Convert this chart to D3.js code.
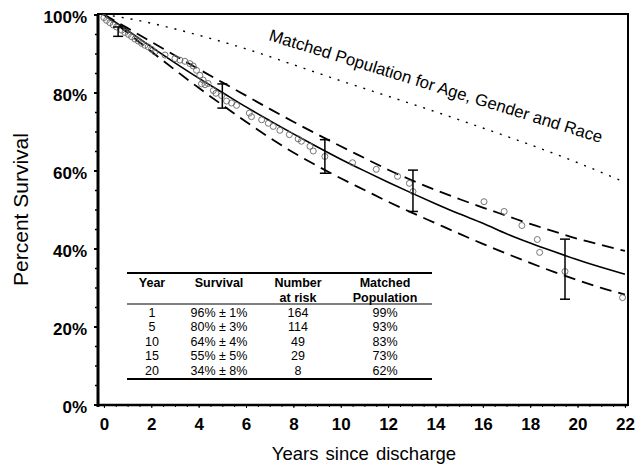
<!DOCTYPE html>
<html>
<head>
<meta charset="utf-8">
<script src="https://cdn.jsdelivr.net/npm/d3@7"></script>
<style>
  body { margin: 0; background: #fff; }
  text { font-family: "Liberation Sans", Arial, Helvetica, sans-serif; }
</style>
</head>
<body>
<div class="chart"></div>
<script>
// fitted survival curve and its confidence band (years, percent)
var fitYears = [0,1,2,3,4,5,6,7,8,9,10,11,12,13,14,15,16,17,18,19,20,21,22];
var fitSurvival = [100,95.9,91.7,87.6,83.7,80.0,76.3,72.8,69.4,66.1,62.9,59.9,57.0,54.2,51.5,48.9,46.5,43.8,41.4,39.2,37.1,35.2,33.4];
var fitUpper = [100,96.5,93,89.5,86,82.6,79.2,75.8,72.5,69.3,66.2,63.2,60.2,57.5,55.0,52.7,50.5,48.4,46.3,44.4,42.5,40.9,39.4];
var fitLower = [100,95.3,90.5,85.8,81.2,76.8,72.5,68.4,64.6,61.2,58.0,55.0,52.0,49.2,46.5,43.8,41.2,38.7,36.3,34.0,31.9,29.9,28.2];

// matched population
var matchedYears = [0,1,5,10,15,20,22];
var matchedSurvival = [100,99,93,83,73,62,57];

// Kaplan-Meier points
var kmYears = [0.0,0.11,0.25,0.39,0.53,0.75,0.89,1.03,1.17,1.31,1.45,1.59,1.73,1.87,2.01,2.15,2.58,3.0,3.21,3.42,3.63,3.77,3.91,4.05,4.12,4.19,4.27,4.4,4.62,4.73,4.97,5.18,5.39,5.6,6.14,6.23,6.66,6.94,7.15,7.43,7.83,8.2,8.34,8.7,8.84,9.33,10.5,11.5,12.4,12.9,13.05,16.05,16.9,17.65,18.3,18.4,19.47,21.9];
var kmSurvival = [99.2,98.5,97.9,97.3,96.8,96.0,95.4,94.9,94.3,93.7,93.2,92.6,92.1,91.7,91.1,90.4,89.6,88.7,88.3,88.0,87.4,86.8,85.7,84.4,82.2,83.2,82.0,82.3,80.5,79.8,79.2,77.8,77.3,76.7,74.7,73.8,73.0,72.1,71.3,70.3,69.2,68.1,67.5,66.2,65.0,63.6,62.0,60.3,58.5,56.7,54.6,52.0,49.5,45.9,42.3,39.0,34.1,27.4];

// error bars
var errYears = [0.6,5.0,9.33,13.05,19.47];
var errMid = [95.6,79.1,63.6,54.8,34.7];
var errHalf = [1.2,3.1,4.3,5.3,7.7];

// table
var tableHead = [["Year"],["Survival"],["Number","at risk"],["Matched","Population"]];
var tableYear = ["1","5","10","15","20"];
var tableSurv = ["96% ± 1%","80% ± 3%","64% ± 4%","55% ± 5%","34% ± 8%"];
var tableRisk = ["164","114","49","29","8"];
var tableMatched = ["99%","93%","83%","73%","62%"];

var yTicks = [0,20,40,60,80,100];
var xTicks = [0,2,4,6,8,10,12,14,16,18,20,22];

createChart();

function createChart(){
    var svgWidth = 636;
    var svgHeight = 464;
    var margin = { top: 14, right: 8, bottom: 59, left: 98 };
    var width = svgWidth - margin.left - margin.right;
    var height = svgHeight - margin.top - margin.bottom;

    var svg = d3.select(".chart").append("svg")
        .attr("width", svgWidth).attr("height", svgHeight);

    var chartGroup = svg.append("g")
        .attr("transform", `translate(${margin.left}, ${margin.top})`);

    var xScale = d3.scaleLinear().domain([-0.25, 22.13]).range([0, width]);
    var yScale = d3.scaleLinear().domain([0, 100]).range([height - 0.5, 0.5]);

    // minor ticks
    chartGroup.append("g")
        .call(d3.axisLeft(yScale).tickValues(d3.range(0, 101, 5)).tickSize(3).tickFormat(""))
        .call(g => g.select(".domain").remove())
        .selectAll("line").attr("stroke-width", 1.5);
    chartGroup.append("g")
        .attr("transform", `translate(0, ${height})`)
        .call(d3.axisBottom(xScale).tickValues(d3.range(0, 22.01, 0.5)).tickSize(2).tickFormat(""))
        .call(g => g.select(".domain").remove());

    var leftAxis = d3.axisLeft(yScale).tickValues(yTicks).tickSize(4).tickPadding(7)
        .tickFormat(d => d + "%");
    chartGroup.append("g")
        .call(leftAxis)
        .call(g => g.select(".domain").remove())
        .call(g => g.selectAll("line").attr("stroke-width", 2))
        .selectAll("text")
        .attr("font-size", 17).attr("font-weight", "bold").attr("dy", "0.45em")
        .style("font-family", "'Liberation Sans', Arial, sans-serif");

    var bottomAxis = d3.axisBottom(xScale).tickValues(xTicks).tickSize(3).tickPadding(10);
    chartGroup.append("g")
        .attr("transform", `translate(0, ${height})`)
        .call(bottomAxis)
        .call(g => g.select(".domain").remove())
        .selectAll("text")
        .attr("font-size", 17).attr("font-weight", "bold")
        .style("font-family", "'Liberation Sans', Arial, sans-serif");

    // frame
    chartGroup.append("rect")
        .attr("x", 0).attr("y", 0).attr("width", width).attr("height", height)
        .attr("fill", "none").attr("stroke", "#000").attr("stroke-width", 2);
    chartGroup.append("line")
        .attr("x1", 0).attr("x2", 0).attr("y1", 0).attr("y2", height + 2)
        .attr("stroke", "#000").attr("stroke-width", 3);
    chartGroup.append("line")
        .attr("x1", 0).attr("x2", width).attr("y1", height).attr("y2", height)
        .attr("stroke", "#000").attr("stroke-width", 2.5);

    var line = d3.line()
        .x(d => xScale(d[0]))
        .y(d => yScale(d[1]))
        .curve(d3.curveMonotoneX);

    var fit = fitYears.map((t, i) => [t, fitSurvival[i]]);
    var upper = fitYears.map((t, i) => [t, fitUpper[i]]);
    var lower = fitYears.map((t, i) => [t, fitLower[i]]);
    var matched = matchedYears.map((t, i) => [t, matchedSurvival[i]]);

    chartGroup.append("path").datum(matched)
        .attr("d", line).attr("fill", "none").attr("stroke", "#000")
        .attr("stroke-width", 1.4).attr("stroke-dasharray", "2,7");
    chartGroup.append("path").datum(upper)
        .attr("d", line).attr("fill", "none").attr("stroke", "#000")
        .attr("stroke-width", 1.8).attr("stroke-dasharray", "12,7");
    chartGroup.append("path").datum(lower)
        .attr("d", line).attr("fill", "none").attr("stroke", "#000")
        .attr("stroke-width", 1.8).attr("stroke-dasharray", "12,7");
    chartGroup.append("path").datum(fit)
        .attr("d", line).attr("fill", "none").attr("stroke", "#000")
        .attr("stroke-width", 1.6);

    // KM circles
    chartGroup.selectAll("circle.km")
        .data(kmYears.map((t, i) => [t, kmSurvival[i]]))
        .enter().append("circle")
        .attr("class", "km")
        .attr("cx", d => xScale(d[0]))
        .attr("cy", d => yScale(d[1]))
        .attr("r", 3)
        .attr("fill", "none").attr("stroke", "#666").attr("stroke-width", 0.9);

    // error bars
    var errData = errYears.map((t, i) => ({ x: t, lo: errMid[i] - errHalf[i], hi: errMid[i] + errHalf[i] }));
    var eb = chartGroup.selectAll("g.err").data(errData).enter().append("g").attr("class", "err");
    eb.append("line")
        .attr("x1", d => xScale(d.x)).attr("x2", d => xScale(d.x))
        .attr("y1", d => yScale(d.lo)).attr("y2", d => yScale(d.hi))
        .attr("stroke", "#000").attr("stroke-width", 1.5);
    eb.append("line")
        .attr("x1", d => xScale(d.x) - 5).attr("x2", d => xScale(d.x) + 5)
        .attr("y1", d => yScale(d.lo)).attr("y2", d => yScale(d.lo))
        .attr("stroke", "#000").attr("stroke-width", 1.5);
    eb.append("line")
        .attr("x1", d => xScale(d.x) - 5).attr("x2", d => xScale(d.x) + 5)
        .attr("y1", d => yScale(d.hi)).attr("y2", d => yScale(d.hi))
        .attr("stroke", "#000").attr("stroke-width", 1.5);

    // matched population label
    svg.append("text")
        .attr("transform", "translate(268, 40) rotate(17.2)")
        .attr("font-size", 16.8)
        .text("Matched Population for Age, Gender and Race");

    // table
    var tbl = svg.append("g");
    var colX = [152, 219, 298, 385];
    tbl.append("line").attr("x1", 127).attr("x2", 432).attr("y1", 273).attr("y2", 273)
        .attr("stroke", "#000").attr("stroke-width", 2);
    tbl.append("line").attr("x1", 127).attr("x2", 432).attr("y1", 304).attr("y2", 304)
        .attr("stroke", "#000").attr("stroke-width", 1.2);
    tbl.append("line").attr("x1", 127).attr("x2", 432).attr("y1", 379).attr("y2", 379)
        .attr("stroke", "#000").attr("stroke-width", 2);
    tableHead.forEach(function(lines, c) {
        lines.forEach(function(s, k) {
            tbl.append("text")
                .attr("x", colX[c]).attr("y", 287 + k * 15)
                .attr("text-anchor", "middle")
                .attr("font-size", 12.5).attr("font-weight", "bold")
                .text(s);
        });
    });
    var cols = [tableYear, tableSurv, tableRisk, tableMatched];
    cols.forEach(function(col, c) {
        col.forEach(function(s, r) {
            tbl.append("text")
                .attr("x", colX[c]).attr("y", 317 + r * 14.4)
                .attr("text-anchor", "middle")
                .attr("font-size", 12.5)
                .text(s);
        });
    });

    // axis titles
    svg.append("text")
        .attr("transform", `translate(28, ${margin.top + height / 2}) rotate(-90)`)
        .attr("text-anchor", "middle")
        .attr("font-size", 21)
        .text("Percent Survival");

    svg.append("text")
        .attr("x", 364).attr("y", 460)
        .attr("text-anchor", "middle")
        .attr("font-size", 18.5)
        .attr("word-spacing", 2)
        .text("Years since discharge");
}
</script>
</body>
</html>
